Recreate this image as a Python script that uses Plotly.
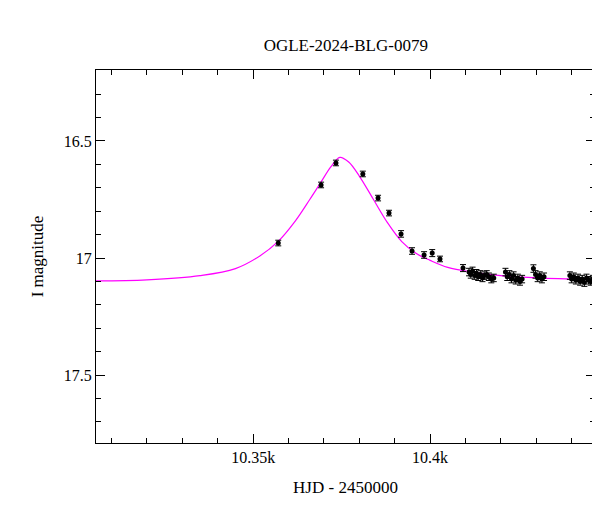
import plotly.graph_objects as go

# Photometry (HJD - 2450000, I mag, error)
hjd = [10357.1, 10369.2, 10373.4, 10381.0, 10385.3, 10388.4, 10391.8, 10394.9, 10398.3, 10400.6, 10402.8, 10409.3,
       10411.0, 10411.5, 10412.0, 10412.6, 10413.1, 10413.6, 10414.2, 10414.8, 10415.3, 10416.0, 10416.6, 10417.3, 10418.0,
       10421.3, 10421.8, 10422.4, 10423.0, 10423.6, 10424.2, 10424.8, 10425.4, 10426.0,
       10429.2, 10429.8, 10430.4, 10431.0, 10431.6, 10432.2,
       10439.5, 10440.0, 10440.6, 10441.2, 10441.8, 10442.4, 10443.0, 10443.6, 10444.2, 10444.8, 10445.4, 10446.0]
mag = [16.936, 16.688, 16.594, 16.641, 16.744, 16.808, 16.897, 16.970, 16.987, 16.979, 17.004, 17.043,
       17.060, 17.070, 17.055, 17.075, 17.065, 17.080, 17.070, 17.085, 17.075, 17.070, 17.080, 17.090, 17.085,
       17.060, 17.080, 17.070, 17.090, 17.075, 17.095, 17.085, 17.100, 17.090,
       17.045, 17.070, 17.085, 17.075, 17.090, 17.080,
       17.075, 17.090, 17.080, 17.095, 17.085, 17.100, 17.090, 17.105, 17.085, 17.095, 17.100, 17.090]
err = [0.012, 0.012, 0.012, 0.012, 0.012, 0.012, 0.014, 0.014, 0.014, 0.015, 0.012, 0.015] + [0.016] * 40

# Model curve
mx = [10305.6, 10320, 10335, 10345, 10352, 10357, 10362, 10366, 10369, 10372, 10374.5, 10377, 10380,
      10384, 10388, 10392, 10396, 10400, 10405, 10412, 10420, 10430, 10446.6]
my = [17.098, 17.093, 17.075, 17.045, 16.99, 16.93, 16.84, 16.75, 16.68, 16.61, 16.57, 16.59, 16.65,
      16.75, 16.85, 16.93, 16.98, 17.01, 17.04, 17.06, 17.075, 17.085, 17.092]

fig = go.Figure()
fig.add_trace(go.Scatter(x=mx, y=my, mode="lines", line=dict(color="#ff00ff", width=1.2, shape="spline"),
                         showlegend=False))
fig.add_trace(go.Scatter(x=hjd, y=mag, mode="markers", marker=dict(color="black", size=5),
                         error_y=dict(type="data", array=err, color="black", thickness=1, width=3),
                         showlegend=False))

font = "Liberation Serif"
axcommon = dict(showgrid=False, zeroline=False, showline=True, linecolor="black", linewidth=1, mirror="allticks",
                ticks="inside", ticklen=9, tickcolor="black",
                minor=dict(ticks="inside", ticklen=5, tickcolor="black"),
                tickfont=dict(family=font, size=16, color="black"))
fig.update_xaxes(range=[10305.6, 10446.6], dtick=50, minor_dtick=10,
                 title=dict(text="HJD - 2450000", font=dict(family=font, size=17, color="black")), **axcommon)
fig.update_yaxes(range=[17.79, 16.197], tickvals=[16.5, 17, 17.5], ticktext=["16.5", "17", "17.5"],
                 minor=dict(ticks="inside", ticklen=5, tickcolor="black", dtick=0.1, tick0=16.0),
                 title=dict(text="I magnitude", font=dict(family=font, size=17, color="black")),
                 **{k: v for k, v in axcommon.items() if k != "minor"})
fig.update_layout(width=600, height=512, plot_bgcolor="white", paper_bgcolor="white",
                  margin=dict(l=88, r=13, t=62, b=77),
                  title=dict(text="OGLE-2024-BLG-0079", x=0.563, y=0.94, xanchor="center",
                             font=dict(family=font, size=17, color="black")))
fig.write_html("out.html")
